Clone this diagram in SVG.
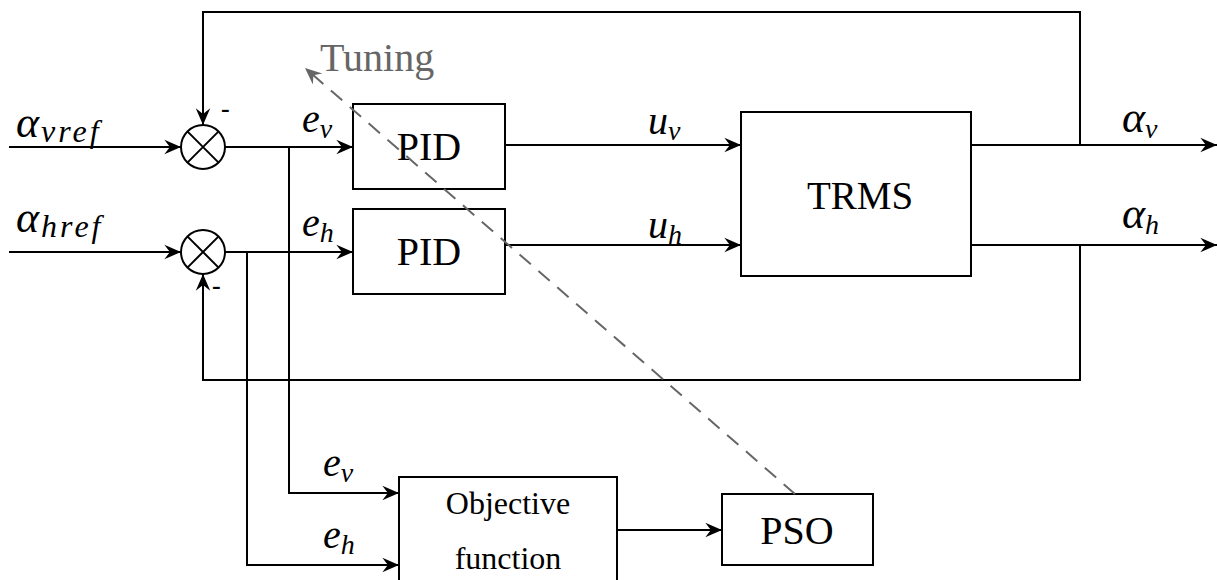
<svg xmlns="http://www.w3.org/2000/svg" width="1217" height="580" viewBox="0 0 1217 580">
<style>
.ln{fill:none;stroke:#000;stroke-width:2}
.bx{fill:#fff;stroke:#000;stroke-width:2}
.t{font-family:"Liberation Serif",serif;fill:#000}
.m{font-family:"Liberation Serif",serif;font-style:italic;fill:#000}
.sub{font-size:32px;letter-spacing:3px}
</style>
<defs>
<marker id="ar" markerUnits="userSpaceOnUse" markerWidth="20" markerHeight="20" viewBox="-16 -8 18 16" refX="0" refY="0" orient="auto">
<path d="M0,0 L-15,-6.5 L-10,0 L-15,6.5 Z" fill="#000"/>
</marker>
<marker id="ag" markerUnits="userSpaceOnUse" markerWidth="20" markerHeight="20" viewBox="-16 -8 18 16" refX="0" refY="0" orient="auto">
<path d="M0,0 L-15,-6.5 L-10,0 L-15,6.5 Z" fill="#666"/>
</marker>
</defs>
<rect width="1217" height="580" fill="#fff"/>
<g id="connectors">
<path class="ln" d="M9,147 H181" marker-end="url(#ar)"/>
<path class="ln" d="M9,252 H181" marker-end="url(#ar)"/>
<path class="ln" d="M1080,145 V12 H203 V125" marker-end="url(#ar)"/>
<path class="ln" d="M1080,245 V380 H203 V274" marker-end="url(#ar)"/>
<path class="ln" d="M225,147 H353" marker-end="url(#ar)"/>
<path class="ln" d="M289,147 V493 H399" marker-end="url(#ar)"/>
<path class="ln" d="M225,252 H353" marker-end="url(#ar)"/>
<path class="ln" d="M247,252 V565 H399" marker-end="url(#ar)"/>
<path class="ln" d="M505,145 H741" marker-end="url(#ar)"/>
<path class="ln" d="M505,245 H741" marker-end="url(#ar)"/>
<path class="ln" d="M971,145 H1217" marker-end="url(#ar)"/>
<path class="ln" d="M971,245 H1217" marker-end="url(#ar)"/>
<path class="ln" d="M617,530 H722" marker-end="url(#ar)"/>
</g>
<g id="sum1">
<circle class="bx" cx="203" cy="147" r="22"/>
<path class="ln" d="M187.4,131.4 L218.6,162.6 M218.6,131.4 L187.4,162.6"/>
<text class="t" x="221" y="117" font-size="26" font-weight="bold">-</text>
</g>
<g id="sum2">
<circle class="bx" cx="203" cy="252" r="22"/>
<path class="ln" d="M187.4,236.4 L218.6,267.6 M218.6,236.4 L187.4,267.6"/>
<text class="t" x="212" y="294" font-size="26" font-weight="bold">-</text>
</g>
<g id="pid1">
<rect class="bx" x="353" y="104" width="152" height="85"/>
<text class="t" x="429" y="160" font-size="40" text-anchor="middle">PID</text>
</g>
<g id="pid2">
<rect class="bx" x="353" y="209" width="152" height="85"/>
<text class="t" x="429" y="265" font-size="40" text-anchor="middle">PID</text>
</g>
<g id="trms">
<rect class="bx" x="741" y="112" width="230" height="164"/>
<text class="t" x="860" y="209" font-size="39" text-anchor="middle">TRMS</text>
</g>
<g id="objective">
<rect class="bx" x="399" y="477" width="218" height="120"/>
<text class="t" x="508" y="514" font-size="32" text-anchor="middle">Objective</text>
<text class="t" x="508" y="569" font-size="32" text-anchor="middle">function</text>
</g>
<g id="pso">
<rect class="bx" x="722" y="494" width="151" height="71"/>
<text class="t" x="797" y="544" font-size="40" text-anchor="middle">PSO</text>
</g>
<g id="tuning">
<path d="M795,494 L305,68" fill="none" stroke="#666" stroke-width="2" stroke-dasharray="15,10" marker-end="url(#ag)"/>
<text class="t" x="320" y="71" font-size="40" style="fill:#666">Tuning</text>
</g>
<g id="labels">
<text class="m" x="16" y="137" font-size="44">α<tspan class="sub" dx="2" dy="5">vref</tspan></text>
<text class="m" x="16" y="232" font-size="44">α<tspan class="sub" dx="2" dy="5">href</tspan></text>
<text class="m" x="302" y="132" font-size="40">e<tspan font-size="28" dy="6">v</tspan></text>
<text class="m" x="302" y="236" font-size="40">e<tspan font-size="28" dy="6">h</tspan></text>
<text class="m" x="648" y="134" font-size="40">u<tspan font-size="28" dy="6">v</tspan></text>
<text class="m" x="648" y="238" font-size="40">u<tspan font-size="28" dy="6">h</tspan></text>
<text class="m" x="1122" y="132" font-size="44">α<tspan font-size="28" dy="6">v</tspan></text>
<text class="m" x="1122" y="228" font-size="44">α<tspan font-size="28" dy="6">h</tspan></text>
<text class="m" x="323" y="476" font-size="40">e<tspan font-size="28" dy="6">v</tspan></text>
<text class="m" x="323" y="548" font-size="40">e<tspan font-size="28" dy="6">h</tspan></text>
</g>
</svg>
